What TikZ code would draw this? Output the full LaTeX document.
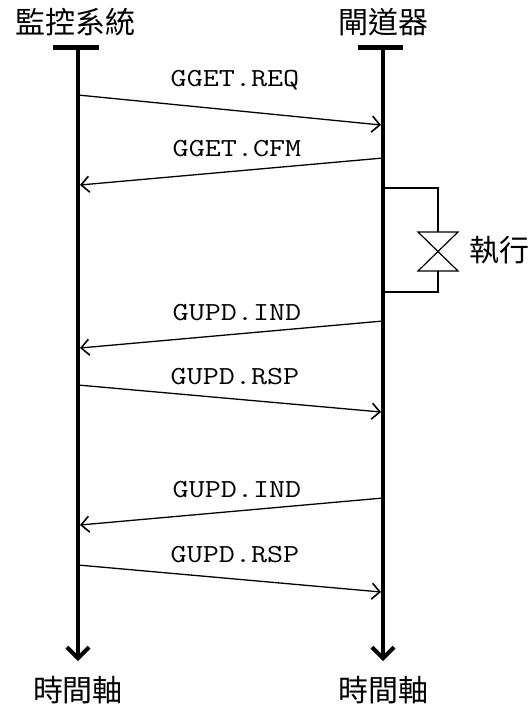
\documentclass[tikz,border=0pt]{standalone}
\usepackage{fontspec}
\newfontfamily\cjk{Noto Sans CJK TC}
\newfontfamily\mono{Latin Modern Mono}[FakeStretch=1.2]
\usetikzlibrary{arrows.meta}
\tikzset{
  lifeline/.style={line width=4pt, -{Straight Barb[length=11pt,width=22pt,line width=4pt]}},
  topbar/.style={line width=5pt},
  msg/.style={line width=1.3pt, -{Straight Barb[length=8pt,width=16pt,line width=1.6pt]}},
  msglabel/.style={font=\mono\fontsize{26}{30}\selectfont, inner sep=0pt},
  party/.style={font=\cjk\fontsize{30}{34}\selectfont, inner sep=0pt}
}
\begin{document}
\begin{tikzpicture}[x=1pt,y=-1pt]
    \useasboundingbox (0,0) rectangle (528,705);

    % Participants
    \node[party] (sys) at (76,22) {監控系統};
    \node[party] (gw) at (383,22) {閘道器};

    % Time axes
    \coordinate (sysTop) at (78,47);
    \coordinate (sysEnd) at (78,661);
    \coordinate (gwTop) at (383,47);
    \coordinate (gwEnd) at (383,661);
    \draw[topbar] (53,47) -- (99,47);
    \draw[topbar] (358,47) -- (403,47);
    \draw[lifeline] (sysTop) -- (sysEnd);
    \draw[lifeline] (gwTop) -- (gwEnd);
    \node[party] (sysTime) at (78,690) {時間軸};
    \node[party] (gwTime) at (383,690) {時間軸};

    % GGET
    \coordinate (reqA) at (78,95);   \coordinate (reqB) at (381,125);
    \coordinate (cfmA) at (383,158); \coordinate (cfmB) at (80,185);
    \draw[msg] (reqA) -- (reqB);
    \node[msglabel] (reqText) at (235,80) {GGET.REQ};
    \draw[msg] (cfmA) -- (cfmB);
    \node[msglabel] (cfmText) at (237,149) {GGET.CFM};

    % Execution
    \coordinate (exA) at (383,188);
    \coordinate (exB) at (438,232);
    \coordinate (exC) at (438,271);
    \coordinate (exD) at (383,292);
    \draw[line width=1.2pt] (exA) -| (exB);
    \draw[line width=1.2pt] (exC) |- (exD);
    \draw[line width=1.2pt] (418,232) -- (458,232) -- (418,271) -- (458,271) -- cycle;
    \node[party, anchor=west] (exText) at (469,250) {執行};

    % GUPD
    \coordinate (ind1A) at (383,321); \coordinate (ind1B) at (80,348);
    \coordinate (rsp1A) at (78,385);  \coordinate (rsp1B) at (381,412);
    \coordinate (ind2A) at (383,498); \coordinate (ind2B) at (80,525);
    \coordinate (rsp2A) at (78,565);  \coordinate (rsp2B) at (381,592);
    \draw[msg] (ind1A) -- (ind1B);
    \node[msglabel] (ind1Text) at (237,313) {GUPD.IND};
    \draw[msg] (rsp1A) -- (rsp1B);
    \node[msglabel] (rsp1Text) at (235,377) {GUPD.RSP};
    \draw[msg] (ind2A) -- (ind2B);
    \node[msglabel] (ind2Text) at (237,490) {GUPD.IND};
    \draw[msg] (rsp2A) -- (rsp2B);
    \node[msglabel] (rsp2Text) at (235,555) {GUPD.RSP};

\end{tikzpicture}
\end{document}
